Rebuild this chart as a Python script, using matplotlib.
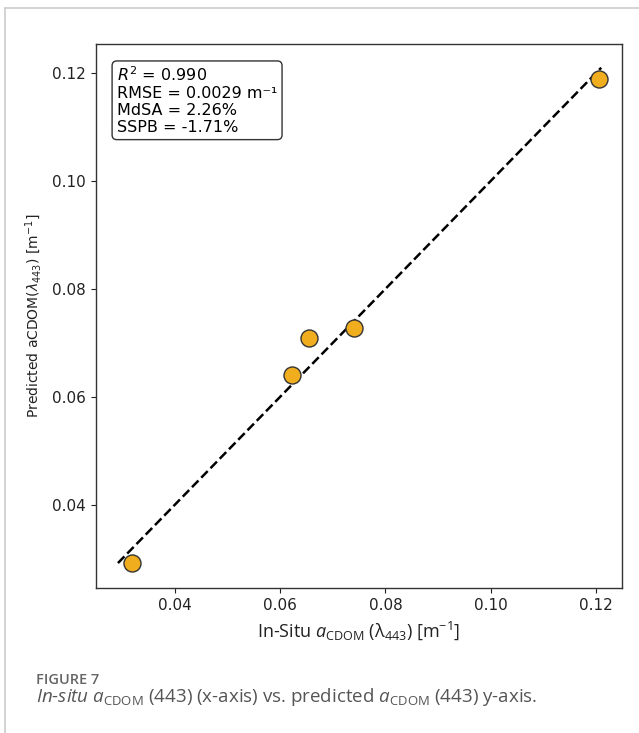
import matplotlib
matplotlib.use('Agg')
import matplotlib.pyplot as plt
from matplotlib.lines import Line2D
import numpy as np

plt.rcParams['mathtext.rm'] = 'Open Sans'
plt.rcParams['mathtext.it'] = 'Open Sans:italic'
plt.rcParams['mathtext.bf'] = 'Open Sans:bold'

# in-situ vs predicted aCDOM(443)
in_situ = [0.0318, 0.0623, 0.0655, 0.0741, 0.1205]
predicted = [0.0293, 0.0640, 0.0709, 0.0728, 0.1189]
one_to_one = [0.0292, 0.1210]

stats = [r'$R^2$ = 0.990', 'RMSE = 0.0029 m\u207b\u00b9', 'MdSA = 2.26%', 'SSPB = -1.71%']
xticks = [0.04, 0.06, 0.08, 0.10, 0.12]
yticks = [0.04, 0.06, 0.08, 0.10, 0.12]

fig = plt.figure(figsize=(6.39, 7.33), dpi=100)
ax = fig.add_axes([0.150, 0.198, 0.823, 0.742])

ax.plot(one_to_one, one_to_one, color='black', linestyle='--', linewidth=1.8, zorder=2)
ax.scatter(in_situ, predicted, s=150, color='#F0AE1E', edgecolor='#333333', linewidth=1.0, zorder=3)

ax.set_xlim(0.0250, 0.1249)
ax.set_ylim(0.0246, 0.1254)
ax.set_xticks(xticks)
ax.set_yticks(yticks)
ax.set_xticklabels(['%.2f' % t for t in xticks])
ax.set_yticklabels(['%.2f' % t for t in yticks])
ax.tick_params(labelsize=11, colors='#222222')
for sp in ax.spines.values():
    sp.set_color('#333333')
    sp.set_linewidth(1.0)

ax.set_xlabel('In-Situ $a_{\\mathrm{CDOM}}$ (\u03bb$_{\\mathrm{443}}$) [m$^{\\mathrm{-1}}$]',
              fontsize=13, family='Open Sans', math_fontfamily='custom', color='#222222', labelpad=5)
ax.set_ylabel(r'Predicted aCDOM($\lambda_{443}$) [m$^{-1}$]', fontsize=10, color='#222222', labelpad=6)

ax.text(0.040, 0.960, '\n'.join(stats), transform=ax.transAxes, fontsize=11.5,
        va='top', ha='left', linespacing=1.15,
        bbox=dict(boxstyle='round,pad=0.3', facecolor='white', edgecolor='#333333', linewidth=1.0))

# page frame
fig.add_artist(Line2D([5 / 639, 5 / 639], [0, 1 - 8 / 733], color='#cccccc', linewidth=1.2))
fig.add_artist(Line2D([5 / 639, 1], [1 - 8 / 733, 1 - 8 / 733], color='#cccccc', linewidth=1.2))

fig.text(36 / 639, 1 - 684 / 733, 'FIGURE 7', fontsize=10.5, family='Open Sans', fontweight='semibold',
         color='#666666', va='baseline')
fig.text(36 / 639, 1 - 702 / 733,
         r'$\it{In}$-$\it{situ}$ $a_{\mathrm{CDOM}}$ (443) (x-axis) vs. predicted $a_{\mathrm{CDOM}}$ (443) y-axis.',
         fontsize=13.5, family='Open Sans', math_fontfamily='custom', color='#555555', va='baseline')

fig.savefig('out.png', dpi=100)
